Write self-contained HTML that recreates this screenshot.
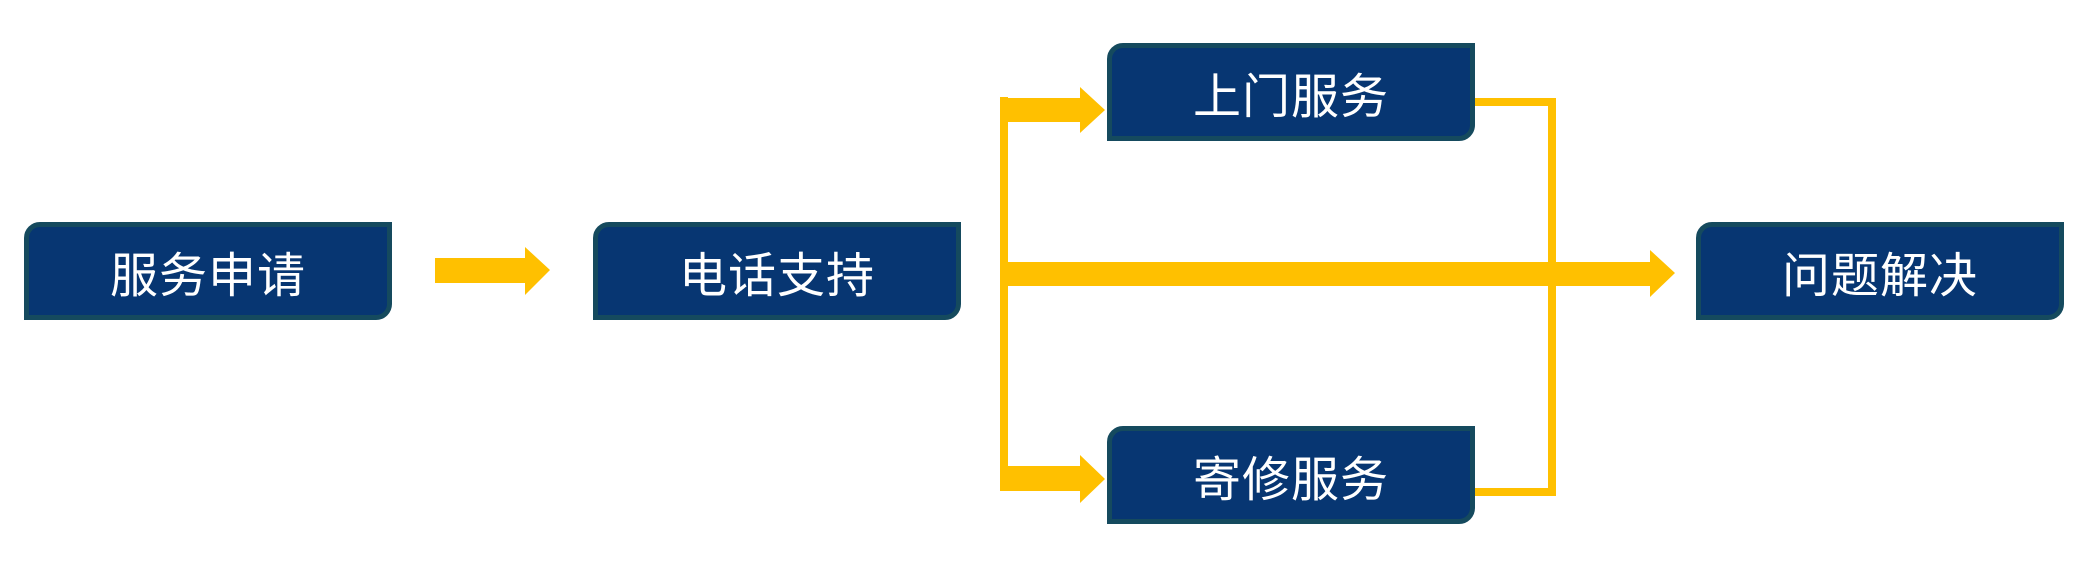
<!DOCTYPE html>
<html><head><meta charset="utf-8"><style>
html,body{margin:0;padding:0;background:#fff;width:2097px;height:567px;overflow:hidden;font-family:"Liberation Sans","Noto Sans CJK SC",sans-serif}
.b{position:absolute;width:358px;height:88px;background:#073672;border:5px solid #154a5e;border-radius:16px 0 16px 0;color:#fff;font-size:48px;display:flex;align-items:center;justify-content:center;letter-spacing:1px;font-weight:normal}
</style></head><body>
<svg width="2097" height="567" style="position:absolute;left:0;top:0">
<g fill="#ffc000">
<polygon points="435,258 525,258 525,247 550,270 525,295 525,283 435,283"/>
<rect x="1000" y="97" width="8" height="394"/>
<polygon points="1000,98 1080,98 1080,87 1105,110 1080,133 1080,122 1000,122"/>
<polygon points="1000,466 1080,466 1080,455 1105,479 1080,503 1080,491 1000,491"/>
<polygon points="1003,262 1650,262 1650,250 1675,273 1650,297 1650,286 1003,286"/>
<rect x="1475" y="98" width="81" height="8"/>
<rect x="1548" y="98" width="8" height="398"/>
<rect x="1475" y="488" width="81" height="8"/>
</g>
</svg>
<div class="b" style="left:24px;top:222px">服务申请</div>
<div class="b" style="left:593px;top:222px">电话支持</div>
<div class="b" style="left:1107px;top:43px">上门服务</div>
<div class="b" style="left:1107px;top:426px">寄修服务</div>
<div class="b" style="left:1696px;top:222px">问题解决</div>
</body></html>
